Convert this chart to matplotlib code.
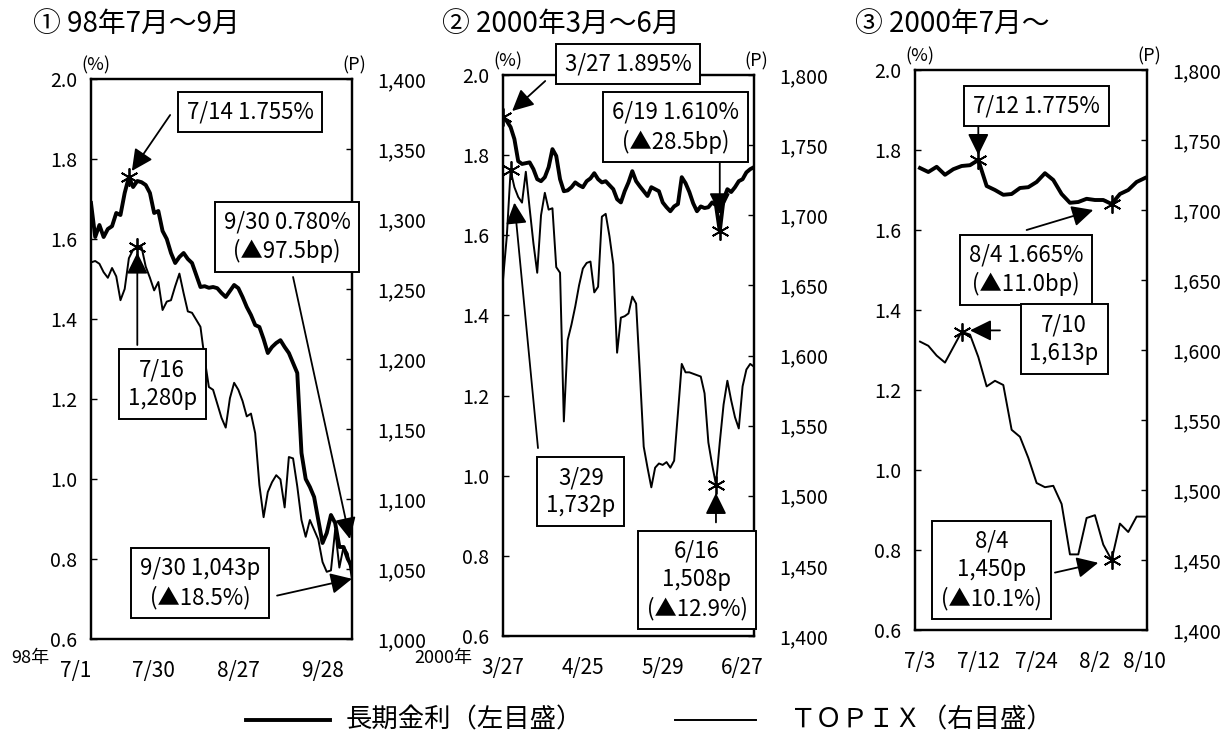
import matplotlib
matplotlib.use("Agg")
import matplotlib.pyplot as plt
from matplotlib.lines import Line2D

plt.rcParams["font.family"] = ["Noto Sans CJK JP", "DejaVu Sans"]

# ---------- data (one value per business day) ----------
# ① 1998/7/1 - 9/30
p1_rate = [1.69, 1.605, 1.635, 1.605, 1.625, 1.632, 1.665, 1.66, 1.715, 1.755,
           1.73, 1.745, 1.742, 1.735, 1.715, 1.665, 1.67, 1.62, 1.60, 1.565,
           1.54, 1.555, 1.565, 1.55, 1.54, 1.51, 1.48, 1.482, 1.478, 1.48,
           1.477, 1.465, 1.455, 1.47, 1.485, 1.477, 1.455, 1.43, 1.41, 1.385,
           1.38, 1.35, 1.315, 1.33, 1.34, 1.347, 1.33, 1.315, 1.29, 1.265,
           1.065, 1.0, 0.98, 0.955, 0.897, 0.84, 0.865, 0.91, 0.89, 0.83,
           0.83, 0.80, 0.78]
p1_topix = [1269, 1270, 1268, 1262, 1258, 1265, 1259, 1242, 1250, 1272,
            1278, 1280, 1280, 1266, 1258, 1249, 1255, 1235, 1241, 1242,
            1252, 1261, 1247, 1234, 1233, 1228, 1223, 1200, 1180, 1178,
            1168, 1158, 1151, 1172, 1183, 1178, 1170, 1159, 1161, 1147,
            1110, 1087, 1105, 1112, 1117, 1114, 1094, 1130, 1129, 1109,
            1085, 1073, 1085, 1078, 1071, 1055, 1048, 1049, 1078, 1051,
            1066, 1061, 1043]
p1_ticks = [0, 20, 40, 60]
p1_ticklabels = ["7/1", "7/30", "8/27", "9/28"]

# ② 2000/3/27 - 6/30
p2_rate = [1.895, 1.885, 1.87, 1.84, 1.785, 1.778, 1.78, 1.782, 1.765, 1.74,
           1.735, 1.745, 1.77, 1.815, 1.798, 1.74, 1.71, 1.712, 1.72, 1.732,
           1.725, 1.72, 1.735, 1.742, 1.755, 1.74, 1.732, 1.735, 1.725, 1.715,
           1.69, 1.682, 1.71, 1.732, 1.76, 1.735, 1.722, 1.71, 1.698, 1.72,
           1.715, 1.71, 1.682, 1.67, 1.66, 1.672, 1.678, 1.745, 1.73, 1.708,
           1.68, 1.66, 1.672, 1.668, 1.67, 1.682, 1.675, 1.61, 1.69, 1.715,
           1.708, 1.72, 1.735, 1.74, 1.757, 1.765, 1.77]
p2_topix = [1654, 1685, 1732, 1720, 1713, 1709, 1731, 1705, 1680, 1659,
            1700, 1716, 1704, 1705, 1663, 1659, 1553, 1611, 1622, 1635,
            1650, 1662, 1666, 1667, 1645, 1649, 1699, 1701, 1685, 1665,
            1602, 1627, 1628, 1630, 1642, 1637, 1587, 1535, 1520, 1506,
            1520, 1523, 1522, 1524, 1520, 1525, 1559, 1594, 1588, 1588,
            1587, 1586, 1585, 1573, 1538, 1522, 1508, 1538, 1565, 1582,
            1568, 1556, 1548, 1578, 1590, 1594, 1592]
p2_ticks = [0, 21, 42, 63]
p2_ticklabels = ["3/27", "4/25", "5/29", "6/27"]

# ③ 2000/7/3 - 8/10
p3_rate = [1.755, 1.745, 1.758, 1.738, 1.752, 1.76, 1.762, 1.775, 1.71, 1.70,
           1.688, 1.69, 1.705, 1.707, 1.72, 1.742, 1.725, 1.69, 1.668, 1.67,
           1.678, 1.675, 1.675, 1.665, 1.69, 1.70, 1.72, 1.73]
p3_topix = [1606, 1603, 1596, 1591, 1602, 1613, 1611, 1595, 1574, 1578,
            1575, 1543, 1538, 1523, 1505, 1502, 1503, 1490, 1454, 1454,
            1480, 1482, 1461, 1450, 1476, 1470, 1481, 1481]
p3_ticks = [0, 7, 14, 21, 27]
p3_ticklabels = ["7/3", "7/12", "7/24", "8/2", "8/10"]

rate_ticks = [0.6, 0.8, 1.0, 1.2, 1.4, 1.6, 1.8, 2.0]
p1_topix_ticks = list(range(1000, 1401, 50))
p23_topix_ticks = list(range(1400, 1801, 50))

W, H = 1231, 740
fig = plt.figure(figsize=(W / 100, H / 100), dpi=100)
fig.patch.set_facecolor("white")

ARROW = dict(arrowstyle="-|>,head_length=0.65,head_width=0.32", mutation_scale=20,
             lw=1.3, color="black", shrinkA=0, shrinkB=0)
BOX = dict(boxstyle="square,pad=0.4", fc="white", ec="black", lw=1.4)


def callout(ax2, trans, text, xy):
    ax2.text(xy[0], xy[1], text, transform=trans, ha="center", va="center",
             fontsize=16, linespacing=1.3, bbox=BOX, zorder=6)


def arrow(ax2, trans, start, tip):
    ax2.annotate("", xy=tip, xytext=start, xycoords=trans, textcoords=trans,
                 arrowprops=ARROW, zorder=5, annotation_clip=False)


panels = [
    dict(rect=[91 / W, 101 / H, 261 / W, 560 / H], rate=p1_rate, topix=p1_topix,
         xlim=(0, 62), ticks=p1_ticks, ticklabels=p1_ticklabels,
         tlim=(1000, 1400), tticks=p1_topix_ticks, ha="right",
         rate_marks=[9], topix_marks=[11]),
    dict(rect=[503 / W, 104 / H, 251 / W, 561 / H], rate=p2_rate, topix=p2_topix,
         xlim=(0, 66), ticks=p2_ticks, ticklabels=p2_ticklabels,
         tlim=(1400, 1800), tticks=p23_topix_ticks, ha="center",
         rate_marks=[0, 57], topix_marks=[2, 56]),
    dict(rect=[915 / W, 110 / H, 232 / W, 560 / H], rate=p3_rate, topix=p3_topix,
         xlim=(-0.6, 27.25), ticks=p3_ticks, ticklabels=p3_ticklabels,
         tlim=(1400, 1800), tticks=p23_topix_ticks, ha="center",
         rate_marks=[7, 23], topix_marks=[5, 23]),
]

axes = []
for p in panels:
    ax = fig.add_axes(p["rect"])
    ax2 = ax.twinx()
    days = list(range(len(p["rate"])))

    ax.plot(days, p["rate"], color="black", lw=2.8, solid_joinstyle="round")
    ax2.plot(days, p["topix"], color="black", lw=1.4)
    for i in p["rate_marks"]:
        ax.plot(days[i], p["rate"][i], marker=(6, 2, 0), ms=13, mew=1.3, color="black")
    for i in p["topix_marks"]:
        ax2.plot(days[i], p["topix"][i], marker=(6, 2, 0), ms=13, mew=1.3, color="black")

    ax.set_xlim(*p["xlim"])
    ax.set_ylim(0.6, 2.0)
    ax.set_yticks(rate_ticks)
    ax.set_yticklabels([f"{v:.1f}" for v in rate_ticks])
    ax2.set_ylim(*p["tlim"])
    ax2.set_yticks(p["tticks"])
    ax2.set_yticklabels([f"{v:,}" for v in p["tticks"]])
    ax.set_xticks(p["ticks"])
    ax.set_xticklabels(p["ticklabels"], ha=p["ha"])

    ax.tick_params(axis="y", direction="in", length=4, width=1, labelsize=14, pad=10)
    ax2.tick_params(axis="y", direction="in", length=4, width=1, labelsize=14, pad=18)
    ax.tick_params(axis="x", length=0, labelsize=15, pad=15)
    for a in (ax, ax2):
        for s in a.spines.values():
            s.set_linewidth(1.6)

    ax.text(0.02, 1.008, "(%)", transform=ax.transAxes, ha="center", va="bottom", fontsize=13)
    ax.text(1.01, 1.008, "(P)", transform=ax.transAxes, ha="center", va="bottom", fontsize=13)
    axes.append((ax, ax2))

# ---------- callouts ----------
ax, ax2 = axes[0]
callout(ax2, ax.transData, "7/14 1.755%", (37.8, 1.9175))
arrow(ax2, ax.transData, (18.8, 1.91), (9.7, 1.77))
callout(ax2, ax.transData, "7/16\n1,280p", (16.9, 1.2375))
arrow(ax2, ax2.transData, (11, 1210), (11, 1276))
callout(ax2, ax.transData, "9/30 0.780%\n(▲97.5bp)", (46.6, 1.605))
arrow(ax2, ax.transData, (48, 1.505), (61.5, 0.85))
callout(ax2, ax.transData, "9/30 1,043p\n(▲18.5%)", (25.9, 0.74))
arrow(ax2, ax2.transData, (44.2, 1031), (62, 1043))

ax, ax2 = axes[1]
callout(ax2, ax.transData, "3/27 1.895%", (32.9, 2.0275))
arrow(ax2, ax.transData, (11.1, 1.985), (2.4, 1.91))
callout(ax2, ax.transData, "6/19 1.610%\n(▲28.5bp)", (45.3, 1.87))
arrow(ax2, ax.transData, (57, 1.78), (57, 1.6525))
callout(ax2, ax.transData, "3/29\n1,732p", (20.5, 0.96))
arrow(ax2, ax2.transData, (9.2, 1534), (3.0, 1709))
callout(ax2, ax.transData, "6/16\n1,508p\n(▲12.9%)", (51, 0.74))
arrow(ax2, ax2.transData, (56, 1481), (56, 1502))

ax, ax2 = axes[2]
callout(ax2, ax.transData, "7/12 1.775%", (14.0, 1.91))
arrow(ax2, ax.transData, (7, 1.895), (7, 1.7875))
callout(ax2, ax.transData, "8/4 1.665%\n(▲11.0bp)", (12.7, 1.5))
arrow(ax2, ax.transData, (12.8, 1.6), (20.8, 1.65))
callout(ax2, ax.transData, "7/10\n1,613p", (17.3, 1.3275))
arrow(ax2, ax2.transData, (9.6, 1614), (6.0, 1614))
callout(ax2, ax.transData, "8/4\n1,450p\n(▲10.1%)", (8.6, 0.75))
arrow(ax2, ax2.transData, (16.2, 1441), (21.4, 1448))

# ---------- titles / year labels ----------
fig.text(33 / W, 1 - 25 / H, "① 98年7月～9月", fontsize=20, va="center")
fig.text(442 / W, 1 - 25 / H, "② 2000年3月～6月", fontsize=20, va="center")
fig.text(855 / W, 1 - 25 / H, "③ 2000年7月～", fontsize=20, va="center")
fig.text(30 / W, 1 - 658 / H, "98年", fontsize=13, ha="center", va="center")
fig.text(443 / W, 1 - 658 / H, "2000年", fontsize=13, ha="center", va="center")

# ---------- legend ----------
ly = 1 - 720 / H
fig.add_artist(Line2D([246 / W, 330 / W], [ly, ly], lw=2.8, color="black",
                      transform=fig.transFigure))
fig.text(346 / W, ly, "長期金利（左目盛）", fontsize=19, va="center")
fig.add_artist(Line2D([675 / W, 756 / W], [ly, ly], lw=1.4, color="black",
                      transform=fig.transFigure))
fig.text(790 / W, ly, "ＴＯＰＩＸ（右目盛）", fontsize=19, va="center")

fig.savefig("out.png", dpi=100)
